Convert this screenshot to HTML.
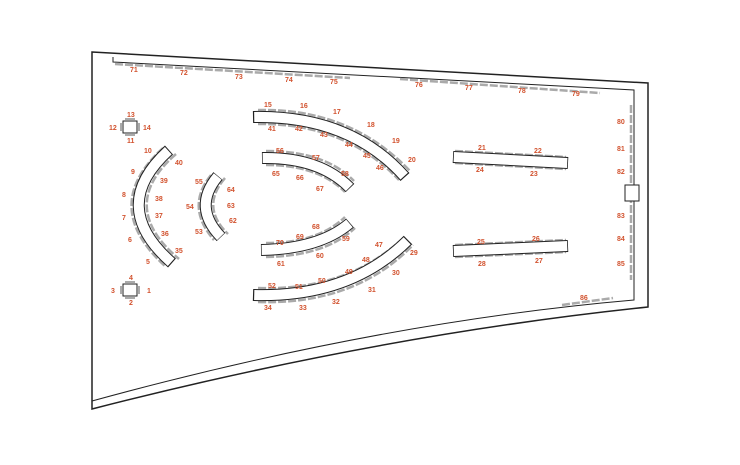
<!DOCTYPE html>
<html><head><style>
body{margin:0;background:#fff}
svg text{font-family:"Liberation Sans",sans-serif;font-size:7px;fill:#d2522e;font-weight:bold}
</style></head><body>
<svg width="740" height="460" viewBox="0 0 740 460" xmlns="http://www.w3.org/2000/svg">
<rect width="740" height="460" fill="#fff"/>
<path d="M92,52 L648,83 L648,307 Q380,335 92,409 Z" fill="#fff" stroke="#222" stroke-width="1.5"/>
<path d="M113,57 L113,62 L634,90 L634,300 Q380,322 92,401" fill="none" stroke="#222" stroke-width="1"/>
<g fill="none" stroke="#aaa" stroke-width="2.5" stroke-dasharray="8,2">
<path d="M115,64 L350,78"/>
<path d="M400,79 L600,93"/>
<path d="M631,105 L631,280"/>
<path d="M562,305 L613,298"/>
</g>
<rect x="625" y="185" width="14" height="16" fill="#fff" stroke="#222"/>
<g fill="none" stroke-linecap="butt">
<g stroke="#aaa" stroke-width="2.5" stroke-dasharray="8,2">
<path d="M258,110 Q350,108 410,171"/>
<path d="M258,124 Q345,123 399,180"/>
<path d="M266,151 Q325,151 354,181"/>
<path d="M266,165 Q318,165 345,192"/>
<path d="M266,243 Q318,243 345,217"/>
<path d="M266,257 Q325,256 355,228"/>
<path d="M258,288 Q345,291 401,240"/>
<path d="M258,302 Q355,305 413,245"/>
<path d="M163,148 Q99,206 165,266"/>
<path d="M176,154 Q116,206 179,259"/>
<path d="M211,175 Q185,207 214,240"/>
<path d="M225,178 Q200,207 228,234"/>
<path d="M455,151 L566,157"/>
<path d="M455,163 L566,169"/>
<path d="M455,245 L566,240"/>
<path d="M455,257 L566,252"/>
</g>
<g stroke="#222" stroke-width="12">
<path d="M253,117 Q350,115 405,177"/>
<path d="M262,158 Q320,157 350,188"/>
<path d="M261,250 Q320,249 350,223"/>
<path d="M253,295 Q350,298 408,240"/>
<path d="M169,150 Q107,206 172,263"/>
<path d="M218,176 Q192,207 221,237"/>
<path d="M453,157 L568,163"/>
<path d="M453,251 L568,246"/>
</g>
<g stroke="#fff" stroke-width="10" stroke-dasharray="98.6 100" stroke-dashoffset="-0.7">
<path pathLength="100" d="M253,117 Q350,115 405,177"/>
<path pathLength="100" d="M262,158 Q320,157 350,188"/>
<path pathLength="100" d="M261,250 Q320,249 350,223"/>
<path pathLength="100" d="M253,295 Q350,298 408,240"/>
<path pathLength="100" d="M169,150 Q107,206 172,263"/>
<path pathLength="100" d="M218,176 Q192,207 221,237"/>
<path pathLength="100" d="M453,157 L568,163"/>
<path pathLength="100" d="M453,251 L568,246"/>
</g>
</g>
<g fill="none" stroke="#aaa" stroke-width="2">
<path d="M125,119 h10 M125,135 h10 M121,123 v8 M139,123 v8"/>
<path d="M125,282 h10 M125,298 h10 M121,286 v8 M139,286 v8"/>
</g>
<g fill="#fff" stroke="#222">
<rect x="123" y="121" width="14" height="12"/>
<rect x="123" y="284" width="14" height="12"/>
</g>
<g>
<text x="127" y="117">13</text><text x="109" y="130">12</text><text x="143" y="130">14</text><text x="127" y="143">11</text>
<text x="129" y="280">4</text><text x="111" y="293">3</text><text x="147" y="293">1</text><text x="129" y="305">2</text>
<text x="144" y="153">10</text><text x="131" y="174">9</text><text x="122" y="197">8</text><text x="122" y="220">7</text><text x="128" y="242">6</text><text x="146" y="264">5</text>
<text x="175" y="165">40</text><text x="160" y="183">39</text><text x="155" y="201">38</text><text x="155" y="218">37</text><text x="161" y="236">36</text><text x="175" y="253">35</text>
<text x="195" y="184">55</text><text x="186" y="209">54</text><text x="195" y="234">53</text><text x="227" y="192">64</text><text x="227" y="208">63</text><text x="229" y="223">62</text>
<text x="264" y="107">15</text><text x="300" y="108">16</text><text x="333" y="114">17</text><text x="367" y="127">18</text><text x="392" y="143">19</text><text x="408" y="162">20</text>
<text x="268" y="131">41</text><text x="295" y="131">42</text><text x="320" y="137">43</text><text x="345" y="147">44</text><text x="363" y="158">45</text><text x="376" y="170">46</text>
<text x="276" y="153">56</text><text x="312" y="160">57</text><text x="341" y="176">58</text><text x="272" y="176">65</text><text x="296" y="180">66</text><text x="316" y="191">67</text>
<text x="312" y="229">68</text><text x="296" y="239">69</text><text x="276" y="245">70</text><text x="342" y="241">59</text><text x="316" y="258">60</text><text x="277" y="266">61</text>
<text x="375" y="247">47</text><text x="362" y="262">48</text><text x="345" y="274">49</text><text x="318" y="283">50</text><text x="295" y="289">51</text><text x="268" y="288">52</text>
<text x="410" y="255">29</text><text x="392" y="275">30</text><text x="368" y="292">31</text><text x="332" y="304">32</text><text x="299" y="310">33</text><text x="264" y="310">34</text>
<text x="478" y="150">21</text><text x="534" y="153">22</text><text x="476" y="172">24</text><text x="530" y="176">23</text>
<text x="477" y="244">25</text><text x="532" y="241">26</text><text x="478" y="266">28</text><text x="535" y="263">27</text>
<text x="130" y="72">71</text><text x="180" y="75">72</text><text x="235" y="79">73</text><text x="285" y="82">74</text><text x="330" y="84">75</text>
<text x="415" y="87">76</text><text x="465" y="90">77</text><text x="518" y="93">78</text><text x="572" y="96">79</text>
<text x="617" y="124">80</text><text x="617" y="151">81</text><text x="617" y="174">82</text><text x="617" y="218">83</text><text x="617" y="241">84</text><text x="617" y="266">85</text>
<text x="580" y="300">86</text>
</g>
</svg>
</body></html>
